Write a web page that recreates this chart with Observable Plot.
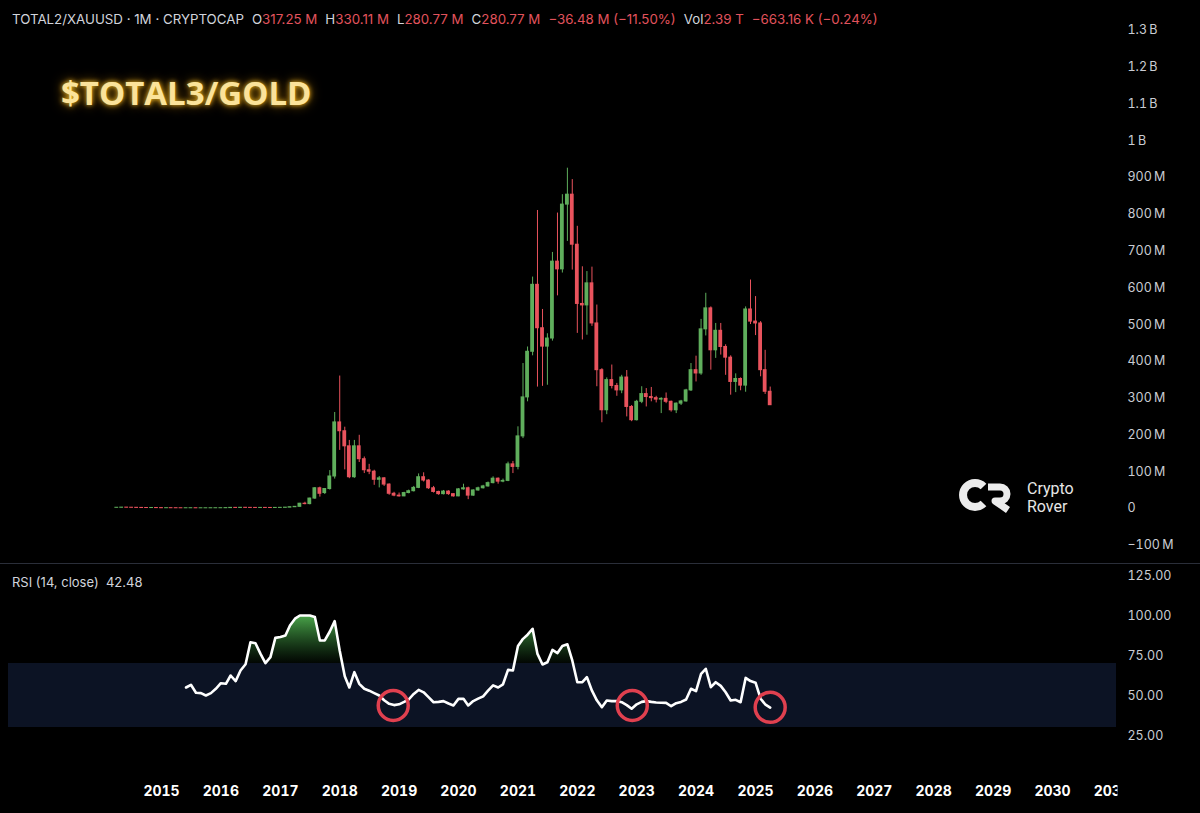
<!DOCTYPE html>
<html><head><meta charset="utf-8">
<script src="https://cdn.jsdelivr.net/npm/d3@7"></script>
<script src="https://cdn.jsdelivr.net/npm/@observablehq/plot@0.6"></script>
<style>
html,body{margin:0;padding:0;background:#000;}
#root{position:relative;width:1200px;height:813px;background:#000;overflow:hidden;font-family:Inter,Roboto,sans-serif;}
#header{position:absolute;left:12px;top:11px;font-size:13.3px;line-height:16px;color:#d1d4dc;white-space:pre;}
#header .v{color:#e2535d;}
#header .g{margin-left:8px;}
#title{position:absolute;left:61px;top:70px;font:700 33px "Open Sans",sans-serif;color:#fbe39a;
  text-shadow:0 0 5px rgba(255,196,40,0.95),0 0 12px rgba(255,170,0,0.6);}
#rsiLabel{position:absolute;left:12px;top:574px;font-size:13px;line-height:16px;color:#d1d4dc;white-space:pre;}
#main{position:absolute;left:0;top:0;}
#rsi{position:absolute;left:0;top:563px;}
#sep{position:absolute;left:0;top:563px;width:1200px;height:1px;background:#2a2e39;}
#logo{position:absolute;left:958px;top:477px;}
#logoText{position:absolute;left:1027px;top:480px;font:16px/18px Roboto,sans-serif;color:#e6e6e6;}
</style></head>
<body><div id="root">
<div id="main"></div>
<div id="sep"></div>
<div id="rsi"></div>
<div id="header"><span>TOTAL2/XAUUSD · 1M · CRYPTOCAP</span><span class="g">O</span><span class="v">317.25 M</span><span class="g">H</span><span class="v">330.11 M</span><span class="g">L</span><span class="v">280.77 M</span><span class="g">C</span><span class="v">280.77 M</span><span class="v g">−36.48 M (−11.50%)</span><span class="g">Vol</span><span class="v">2.39 T</span><span class="v g">−663.16 K (−0.24%)</span></div>
<div id="title">$TOTAL3/GOLD</div>
<div id="rsiLabel">RSI (14, close)  42.48</div>
<svg id="logo" width="60" height="40" viewBox="0 0 60 40">
  <path d="M25.5,9.5 A12,12 0 1 0 25.5,26.5" fill="none" stroke="#ececec" stroke-width="8"/>
  <path d="M30,10 H42 A7,7 0 0 1 42,24 H37 L50,33" fill="none" stroke="#ececec" stroke-width="7" stroke-linejoin="round"/>
</svg>
<div id="logoText">Crypto<br>Rover</div>
</div>
<script>
// ---- Data (values in millions, TOTAL2 / XAUUSD, monthly candles from 2014-04) ----
const firstMonth = "2014-04";
const opens = [1.9,2.0,2.4,2.1,1.9,1.6,1.4,1.3,1.4,
 1.1,0.8,0.9,0.8,0.7,0.65,0.7,0.75,0.6,0.6,0.62,0.7,
 0.75,0.8,1.1,1.7,1.5,1.9,1.7,1.6,1.5,1.6,1.5,1.4,
 1.6,1.8,2.3,3.5,4.5,13,12,27,55,42,53,87,
 234,210,169,85,169,134,104,100,78,82,65,40,
 35,33,42,47,56,85,76,55,45,39,46,39,
 33,52,55,35,49,55,60,69,81,73,75,120,
 113,196,302,426,608,490,440,462,671,650,826,853,
 717,556,552,612,503,376,267,349,333,321,356,276,
 240,290,311,303,300,296,298,290,267,285,291,321,
 376,367,487,544,430,483,439,410,344,352,334,541,
 508,503,376,317.25];
const highs = [2.3,2.6,2.5,2.2,2.0,1.7,1.5,1.5,1.5,
 1.2,1.0,1.0,0.9,0.8,0.8,0.9,0.8,0.7,0.7,0.75,0.8,
 0.9,1.2,1.8,1.9,2.0,2.3,1.8,1.7,1.7,1.7,1.6,1.7,
 1.9,2.4,3.7,4.8,14,17,28,57,58,54,103,261,
 360,221,185,185,199,140,120,104,87,84,67,44,
 42,44,50,60,94,97,78,60,47,49,48,40,
 54,66,58,51,58,63,72,86,83,80,126,128,
 222,394,439,629,810,541,475,696,803,853,925,894,
 767,657,644,656,553,380,355,390,340,362,375,280,
 294,331,326,329,305,301,314,292,287,294,324,394,
 414,514,585,548,503,503,445,415,366,355,548,621,
 576,508,430,330.11];
const lows = [1.6,1.9,2.0,1.8,1.5,1.3,1.1,1.2,1.0,
 0.7,0.7,0.7,0.6,0.6,0.6,0.6,0.5,0.55,0.55,0.6,0.65,
 0.7,0.75,1.0,1.4,1.4,1.6,1.5,1.4,1.4,1.4,1.3,1.3,
 1.5,1.7,2.2,3.3,4.0,10,10,25,31,38,50,80,
 158,105,81,82,125,95,92,63,56,60,36,32,
 31,32,40,45,54,72,52,42,36,37,36,31,
 32,50,24,33,47,53,58,67,66,70,73,95,
 105,190,290,415,330,332,335,455,578,640,726,648,
 476,458,471,495,331,233,255,325,305,312,249,236,
 238,285,276,290,287,258,285,262,258,280,289,318,
 344,362,469,376,408,417,362,308,315,320,316,500,
 470,358,310,280.77];
const closes = [2.0,2.4,2.1,1.9,1.6,1.4,1.3,1.4,1.1,
 0.8,0.9,0.8,0.7,0.65,0.7,0.75,0.6,0.6,0.62,0.7,0.75,
 0.8,1.1,1.7,1.5,1.9,1.7,1.6,1.5,1.6,1.5,1.4,1.6,
 1.8,2.3,3.5,4.5,13,12,27,55,40,53,87,234,
 210,169,85,169,134,104,100,78,82,65,40,35,
 33,42,47,56,85,76,55,45,39,46,39,33,
 52,55,35,49,55,60,69,81,73,75,120,113,
 196,302,426,608,490,440,462,671,650,826,853,717,
 556,552,612,503,376,267,349,333,321,356,276,240,
 290,311,303,300,296,298,290,267,285,291,321,376,
 367,487,544,430,483,439,410,344,352,334,541,508,
 503,376,317.25,280.77];

// RSI (14, close), monthly from 2015-06
const rsiFirstMonth = "2015-06";
const rsiValues = [55,56.7,51.7,51.5,50,51.5,54.2,57.7,57.3,62.5,
 59,65.6,69.5,83.3,82.7,76,70.2,74,86,86.6,
 87.5,93.8,98,100,100,100,99,84.4,84.4,90,
 96.5,78,62,55,64.6,57.3,54.2,53,51.5,50,
 47,44.8,44,44.5,46,47.5,51,53.5,52,49,
 45.8,46,46.5,45,43.8,47.9,47.9,43.8,46.5,48,
 49.5,53,56.3,55,57,66,65.6,81,85.4,88,
 91.7,76,69.4,70.8,78.5,76.5,81,82,71.9,58.3,
 58.3,61.5,53,47,42.7,46.9,46.5,46.5,45.8,44,
 41.7,44.5,46,46.5,46,45.6,45.5,45.4,43.3,45.2,
 46,47.5,54.2,52.7,63.5,66.7,55.2,58.3,56,52,
 46.9,47.3,45.8,61,59,58,48,44.5,42.48];
const rsiLevels = [30, 70];
const circleDates = ["2018-11-26", "2022-12-05", "2025-04-01"];
const circleValues = [43.75, 43.75, 42.6];

const priceTicks = [-100,0,100,200,300,400,500,600,700,800,900,1000,1100,1200,1300];
const rsiTicks = [25,50,75,100,125];
const yearTicks = ["2015","2016","2017","2018","2019","2020","2021","2022","2023","2024","2025","2026","2027","2028","2029","2030","2031"];

// ---- Build ----
const green = "#5fae5c", red = "#e9535d";
function monthSeq(first, n) {
  const [y, m] = first.split("-").map(Number);
  return d3.range(n).map(i => new Date(Date.UTC(y, m - 1 + i, 1)));
}
const dates = monthSeq(firstMonth, opens.length);
const candles = dates.map((d, i) => ({date: d, open: opens[i], high: highs[i], low: lows[i], close: closes[i]}));
const rsiDates = monthSeq(rsiFirstMonth, rsiValues.length);
const rsiData = rsiDates.map((d, i) => ({date: d, v: rsiValues[i]}));
const circles = circleDates.map((d, i) => ({date: new Date(d + "T00:00:00Z"), v: circleValues[i]}));
const years = yearTicks.map(y => new Date(Date.UTC(+y, 0, 1)));

// time scale layout: 2015 at x=161, 2030 at x=1052, plot spans 8..1116
const W = 1200, mL = 8, mR = 84;
const t15 = Date.UTC(2015,0,1), t30 = Date.UTC(2030,0,1);
const k = (1052 - 161) / (t30 - t15);
const d0 = new Date(t15 - (161 - mL) / k), d1 = new Date(t15 + (W - mR - 161) / k);
const half = 1.9 / k;

const fmtPrice = v => v === 0 ? "0" : (v < 0 ? "−" : "") + (Math.abs(v) >= 1000 ? (Math.abs(v)/1000) + "\u202FB" : Math.abs(v) + "\u202FM");
const col = d => d.close >= d.open ? green : red;

const main = Plot.plot({
  width: W, height: 563, marginLeft: mL, marginRight: mR, marginTop: 0, marginBottom: 0,
  style: {background: "transparent", color: "#c9ccd3", fontFamily: "Inter, Roboto, sans-serif", fontSize: "12.5px"},
  x: {type: "utc", domain: [d0, d1], axis: null},
  y: {domain: [-149.5, 1380.8], axis: null, label: null},
  color: {type: "identity"},
  marks: [
    Plot.axisY(priceTicks, {anchor: "right", tickSize: 0, tickPadding: 11, tickFormat: fmtPrice, fill: "#c9ccd3", label: null}),
    Plot.ruleX(candles, {x: "date", y1: "low", y2: "high", stroke: col, strokeWidth: 1}),
    Plot.rect(candles, {x1: d => new Date(+d.date - half), x2: d => new Date(+d.date + half), y1: "open", y2: "close", fill: col, insetTop: -0.5, insetBottom: -0.5})
  ]
});
document.getElementById("main").appendChild(main);

const rsi = Plot.plot({
  width: W, height: 250, marginLeft: mL, marginRight: mR, marginTop: 0, marginBottom: 50,
  style: {background: "transparent", color: "#c9ccd3", fontFamily: "Inter, Roboto, sans-serif", fontSize: "12.5px"},
  x: {type: "utc", domain: [d0, d1], axis: null, label: null},
  y: {domain: [7.5, 132.5], axis: null, label: null},
  marks: [
    Plot.rect([rsiLevels], {x1: () => d0, x2: () => d1, y1: d => d[0], y2: d => d[1], fill: "#0c1324"}),
    Plot.areaY(rsiData, {x: "date", y1: () => rsiLevels[1], y2: d => Math.max(d.v, rsiLevels[1]), fill: "url(#rsiGrad)"}),
    Plot.lineY(rsiData, {x: "date", y: "v", stroke: "#ffffff", strokeWidth: 2.6, strokeLinejoin: "round"}),
    Plot.dot(circles, {x: "date", y: "v", r: 15, stroke: "#e0404f", strokeWidth: 3.5, fill: "none"}),
    Plot.axisY(rsiTicks, {anchor: "right", tickSize: 0, tickPadding: 11, tickFormat: d3.format(".2f"), fill: "#c9ccd3", label: null}),
    Plot.axisX(years, {anchor: "bottom", tickSize: 0, tickPadding: 23, tickFormat: d3.utcFormat("%Y"), fontWeight: 700, fontSize: 14, fill: "#ffffff", label: null})
  ]
});
const ns = "http://www.w3.org/2000/svg";
const defs = document.createElementNS(ns, "defs");
defs.innerHTML = '<linearGradient id="rsiGrad" x1="0" y1="0" x2="0" y2="1"><stop offset="0" stop-color="#4fae4f" stop-opacity="0.95"/><stop offset="1" stop-color="#2e7d32" stop-opacity="0.05"/></linearGradient>' +
  '<clipPath id="xclip"><rect x="0" y="0" width="1117" height="250"/></clipPath>';
rsi.insertBefore(defs, rsi.firstChild);
const xa = rsi.querySelector('g[aria-label="x-axis tick label"]');
if (xa) xa.setAttribute("clip-path", "url(#xclip)");
document.getElementById("rsi").appendChild(rsi);
</script>
</body></html>
